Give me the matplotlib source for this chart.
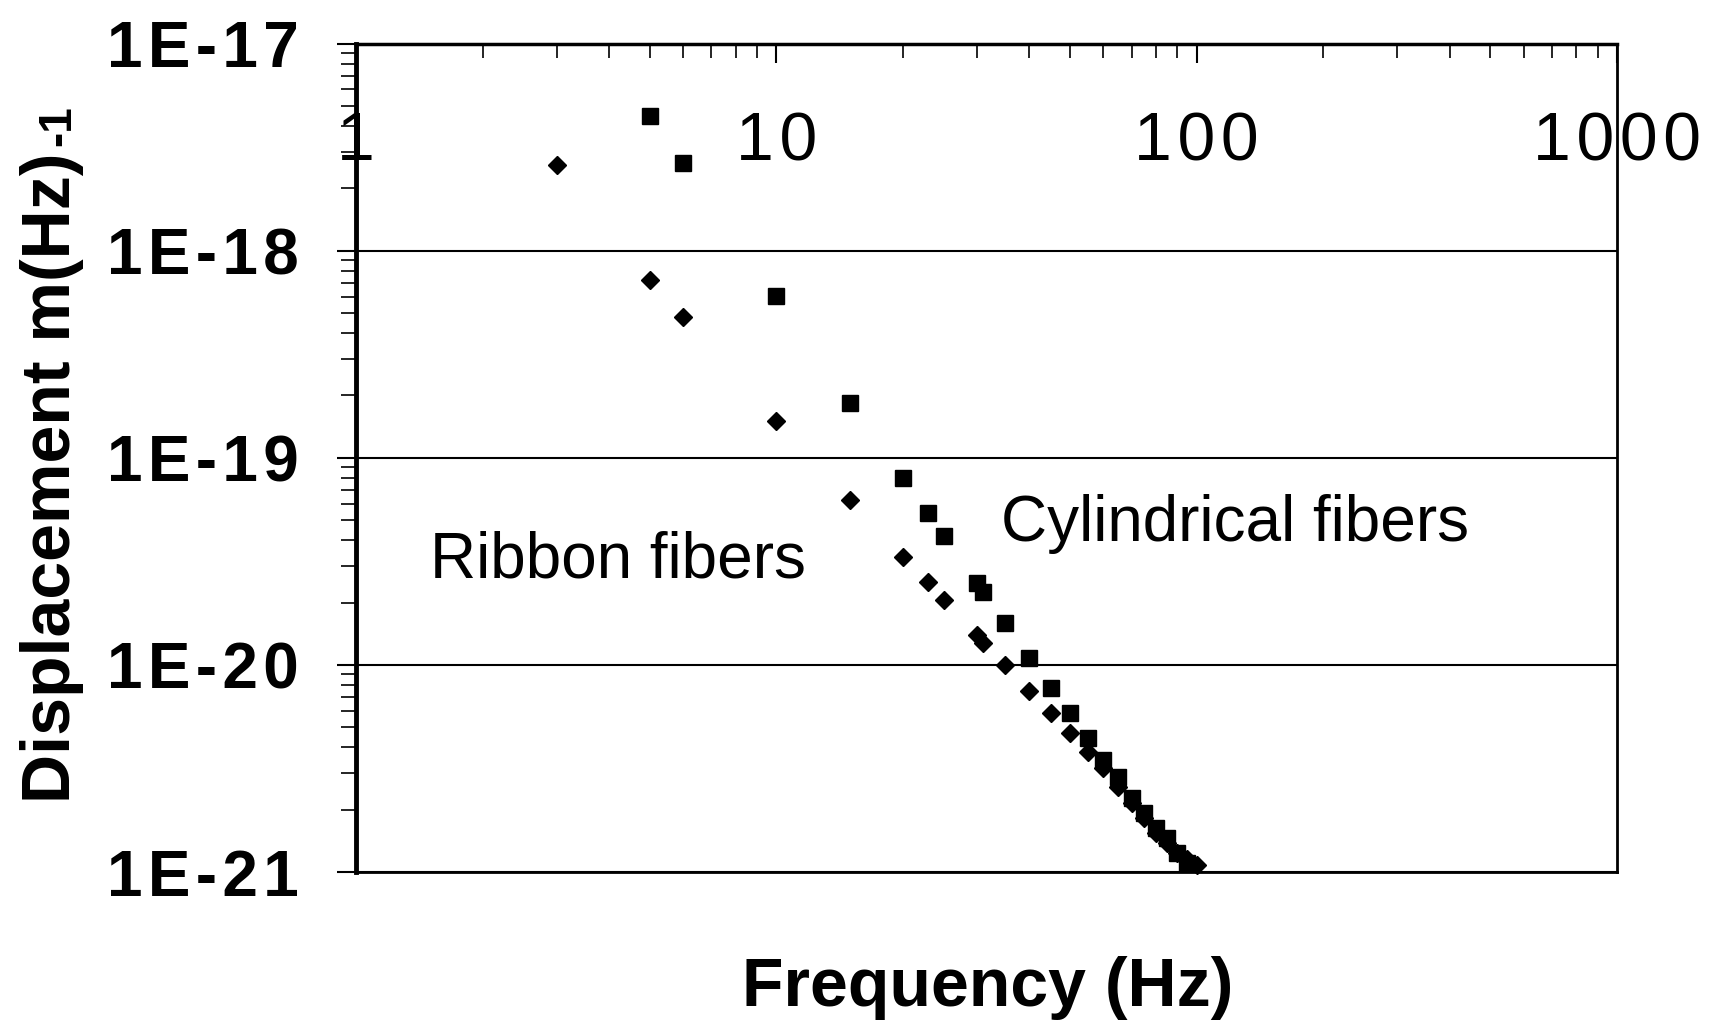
import matplotlib
matplotlib.use("Agg")
import matplotlib.pyplot as plt
from matplotlib.ticker import LogLocator, NullFormatter, FixedLocator

plt.rcParams['font.family'] = ['Liberation Sans', 'DejaVu Sans']

# Data
ribbon_freq = [3, 5, 6, 10, 15, 20, 23, 25, 30, 31, 35, 40, 45, 50, 55, 60,
               65, 70, 75, 80, 85, 90, 95, 100]
ribbon_disp = [2.58e-18, 7.24e-19, 4.76e-19, 1.51e-19, 6.22e-20, 3.33e-20,
               2.50e-20, 2.06e-20, 1.40e-20, 1.27e-20, 1.00e-20, 7.5e-21,
               5.85e-21, 4.71e-21, 3.81e-21, 3.17e-21, 2.58e-21, 2.15e-21,
               1.82e-21, 1.54e-21, 1.38e-21, 1.23e-21, 1.15e-21, 1.08e-21]

cyl_freq = [5, 6, 10, 15, 20, 23, 25, 30, 31, 35, 40, 45, 50, 55, 60, 65,
            70, 75, 80, 85, 90, 95]
cyl_disp = [4.46e-18, 2.65e-18, 6.07e-19, 1.84e-19, 7.98e-20, 5.41e-20,
            4.20e-20, 2.48e-20, 2.26e-20, 1.59e-20, 1.08e-20, 7.7e-21,
            5.85e-21, 4.43e-21, 3.48e-21, 2.88e-21, 2.27e-21, 1.92e-21,
            1.63e-21, 1.46e-21, 1.23e-21, 1.10e-21]

x_ticks = [1, 10, 100, 1000]
x_tick_labels = ['1', '10', '100', '1000']
y_ticks = [1e-21, 1e-20, 1e-19, 1e-18, 1e-17]
y_tick_labels = ['1E-21', '1E-20', '1E-19', '1E-18', '1E-17']

HS = '\u200a'  # hair space, for the wide letter spacing of the original


def spaced(s):
    return HS.join(s)


fig = plt.figure(figsize=(17.15, 10.30), dpi=100)
ax = fig.add_axes([356/1715, 1 - 872/1030, (1617-356)/1715, (872-43.5)/1030])

ax.set_xscale('log')
ax.set_yscale('log')
ax.set_xlim(1, 1000)
ax.set_ylim(1e-21, 1e-17)

ax.plot(cyl_freq, cyl_disp, linestyle='none', marker='s', markersize=11,
        color='black', zorder=3, clip_on=False)
ax.plot(ribbon_freq, ribbon_disp, linestyle='none', marker='D', markersize=8.8,
        color='black', zorder=4, clip_on=False)

# y axis
ax.yaxis.set_major_locator(FixedLocator(y_ticks))
ax.set_yticklabels([spaced(t) for t in y_tick_labels])
ax.yaxis.set_minor_locator(LogLocator(base=10, subs=range(2, 10), numticks=50))
ax.yaxis.set_minor_formatter(NullFormatter())
ax.tick_params(axis='y', which='major', direction='out', length=14, width=1.5,
               left=True, right=False, labelsize=46, pad=27)
ax.tick_params(axis='y', which='minor', direction='out', length=11, width=1.2,
               left=True, right=False)
for lbl in ax.get_yticklabels():
    lbl.set_fontweight('bold')

# x axis: ticks on top pointing inward, labels inside the plot
ax.xaxis.set_major_locator(FixedLocator(x_ticks))
ax.set_xticklabels([spaced(t) for t in x_tick_labels])
ax.xaxis.set_minor_locator(LogLocator(base=10, subs=range(2, 10), numticks=50))
ax.xaxis.set_minor_formatter(NullFormatter())
ax.tick_params(axis='x', which='major', direction='in', length=14, width=1.5,
               top=True, bottom=False, labeltop=True, labelbottom=False,
               labelsize=49, pad=-71)
ax.tick_params(axis='x', which='minor', direction='in', length=10, width=1.2,
               top=True, bottom=False)
for lbl in ax.get_xticklabels():
    lbl.set_verticalalignment('center')

ax.grid(True, axis='y', which='major', color='black', linewidth=1.5)
ax.set_axisbelow(True)

ax.spines['left'].set_linewidth(3.5)
ax.spines['top'].set_linewidth(2.5)
ax.spines['bottom'].set_linewidth(2.0)
ax.spines['right'].set_linewidth(2.0)

ax.set_xlabel('Frequency (Hz)', fontsize=49, fontweight='bold')
ax.xaxis.set_label_coords((988 - 356) / 1261, -(988 - 872) / 828)
ax.xaxis.label.set_verticalalignment('center')

ax.set_ylabel('Displacement m(Hz)', fontsize=49, fontweight='bold')
ax.yaxis.set_label_coords(-(356 - 52) / 1261, (872 - 478) / 828)
ax.yaxis.label.set_verticalalignment('center')
ax.text(-(356 - 80) / 1261, (872 - 146) / 828, '-1', transform=ax.transAxes,
        fontsize=33, fontweight='bold', rotation=90, ha='right', va='bottom')

ax.text((430 - 356) / 1261, (872 - 578) / 828, 'Ribbon fibers', transform=ax.transAxes,
        fontsize=46, ha='left', va='baseline')
ax.text((1001 - 356) / 1261, (872 - 541) / 828, 'Cylindrical fibers', transform=ax.transAxes,
        fontsize=46, ha='left', va='baseline')

fig.savefig('out.png', dpi=100)
